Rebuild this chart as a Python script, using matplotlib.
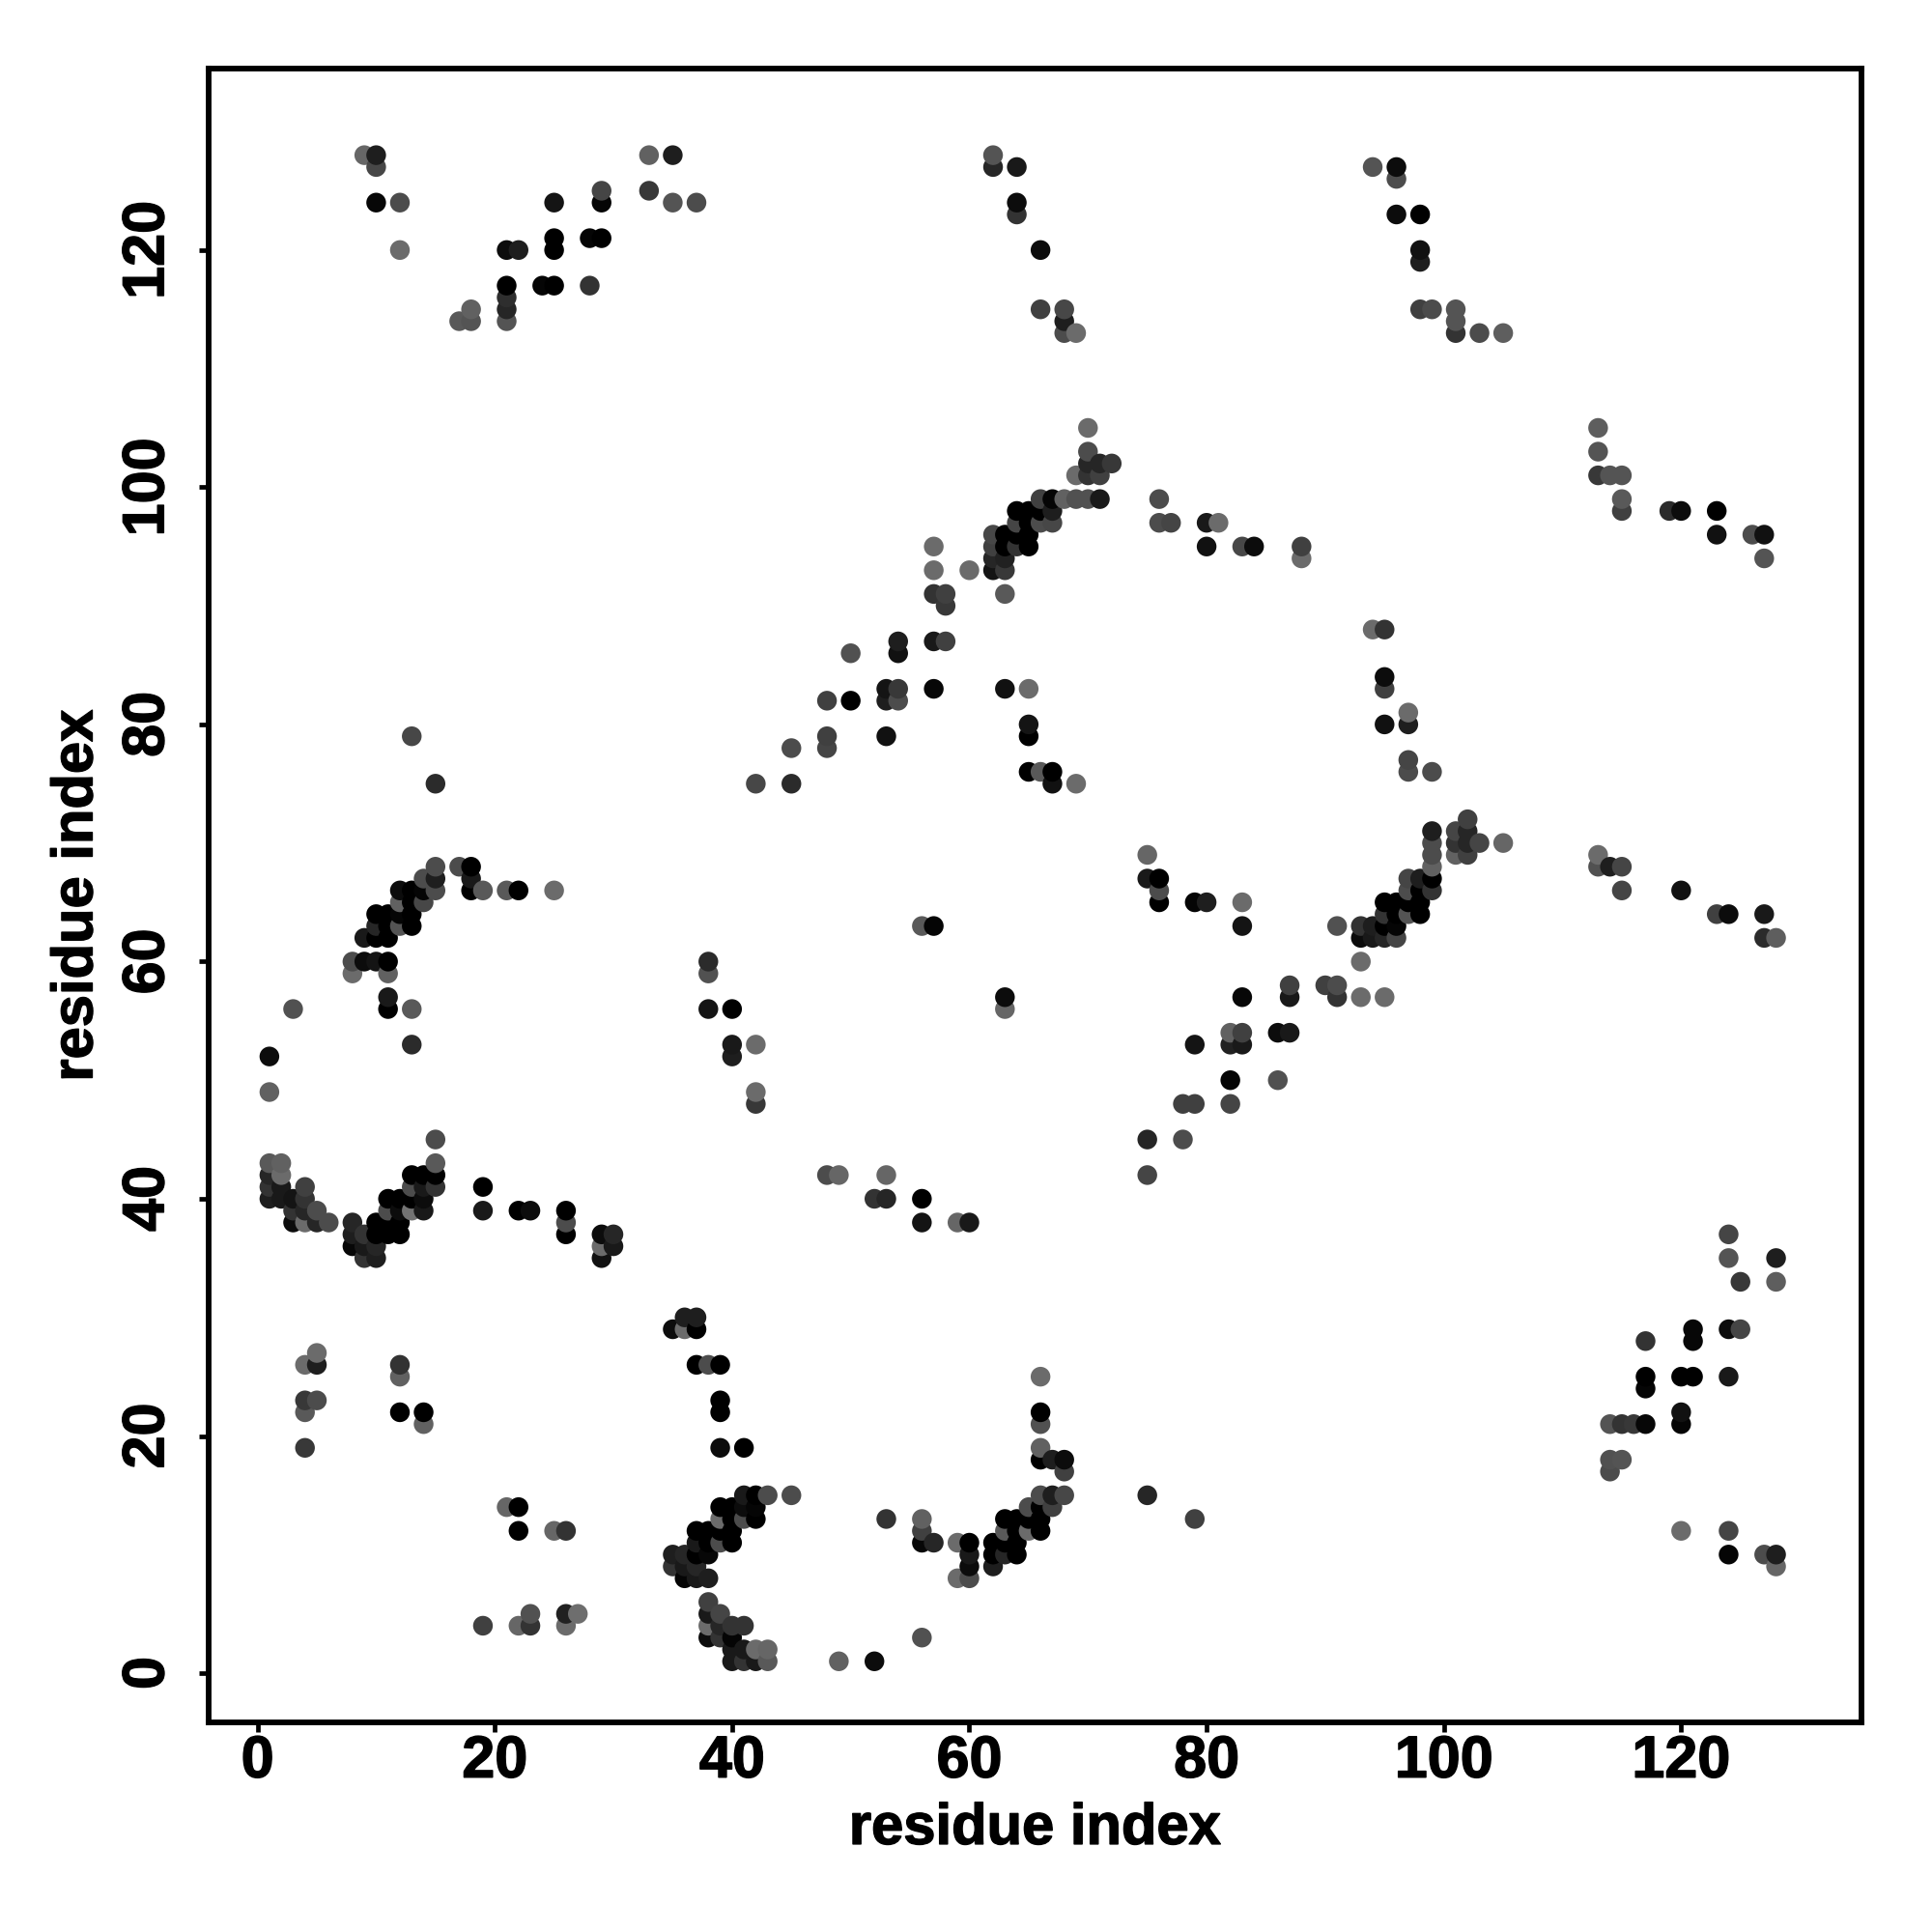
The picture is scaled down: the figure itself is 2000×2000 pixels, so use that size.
import matplotlib

matplotlib.use("Agg")
import matplotlib.patheffects as pe
import matplotlib.pyplot as plt
import numpy as np

plt.rcParams["font.family"] = ["Liberation Sans", "DejaVu Sans"]

# contacts, one row per y value: (y, [x...], [grey level...])
rows = [
    (128, [9, 10, 33, 35, 62], [.4, .12, .38, .12, .33]),
    (127, [10, 62, 64, 94, 96], [.28, .15, .1, .33, .05]),
    (126, [96], [.3]),
    (125, [29, 33], [.27, .22]),
    (124, [10, 12, 25, 29, 35, 37, 64], [.03, .3, .08, .02, .33, .3, .05]),
    (123, [64, 96, 98], [.2, .05, 0]),
    (121, [25, 28, 29], [0, .02, 0]),
    (120, [12, 21, 22, 25, 66, 98], [.42, .05, .12, 0, .05, .07]),
    (119, [98], [.12]),
    (117, [21, 24, 25, 28], [0, .02, 0, .2]),
    (116, [21], [.18]),
    (115, [18, 21, 66, 68, 98, 99, 101], [.38, .15, .25, .28, .25, .3, .33]),
    (114, [17, 18, 21, 68, 101], [.35, .33, .33, .12, .33]),
    (113, [68, 69, 101, 103, 105], [.3, .42, .2, .3, .37]),
    (105, [70, 113], [.42, .37]),
    (103, [70, 113], [.3, .33]),
    (102, [70, 71, 72], [.15, .15, .22]),
    (101, [69, 70, 71, 113, 114, 115], [.42, .2, .25, .22, .33, .33]),
    (99, [66, 67, 68, 69, 70, 71, 76, 115], [.25, .02, .38, .32, .32, .1, .3, .35]),
    (98, [64, 65, 66, 67, 115, 119, 120, 123], [0, 0, 0, .12, .25, .17, .05, 0]),
    (97, [64, 65, 66, 67, 76, 77, 80, 81], [.27, 0, .3, .28, .3, .27, .1, .42]),
    (96, [62, 63, 64, 65, 123, 126, 127], [.28, 0, 0, 0, .07, .3, .07]),
    (95, [57, 62, 63, 64, 65, 80, 83, 84, 88], [.42, .25, 0, .2, 0, .07, .28, .05, .25]),
    (94, [62, 63, 88, 127], [.15, .13, .42, .33]),
    (93, [57, 60, 62, 63], [.42, .42, .08, .22]),
    (91, [57, 58, 63], [.2, .25, .35]),
    (90, [58], [.22]),
    (88, [94, 95], [.42, .2]),
    (87, [54, 57, 58], [.12, .1, .25]),
    (86, [50, 54], [.32, .07]),
    (84, [95], [.05]),
    (83, [53, 54, 57, 63, 65, 95], [.08, .22, .03, .07, .42, .25]),
    (82, [48, 50, 53, 54], [.25, 0, .12, .3]),
    (81, [97], [.42]),
    (80, [65, 95, 97], [.08, .07, .12]),
    (79, [13, 48, 53, 65], [.28, .25, .07, 0]),
    (78, [45, 48], [.3, .27]),
    (77, [97], [.27]),
    (76, [65, 66, 67, 97, 99], [0, .35, 0, .3, .3]),
    (75, [15, 42, 45, 67, 69], [.17, .28, .17, .07, .42]),
    (72, [102], [.25]),
    (71, [99, 101, 102], [.12, .27, .15]),
    (70, [99, 101, 102, 103, 105], [.3, .2, .15, .27, .4]),
    (69, [75, 99, 101, 102, 113], [.4, .3, .38, .25, .42]),
    (68, [15, 17, 18, 99, 113, 114, 115], [.3, .3, 0, .38, .32, .12, .27]),
    (67, [14, 15, 18, 75, 76, 97, 98, 99], [.3, .12, .1, .1, 0, .27, .12, 0]),
    (66, [12, 13, 14, 15, 18, 19, 21, 22, 25, 76, 97, 98, 99, 115, 120],
     [.05, 0, .02, .3, 0, .35, .35, 0, .42, .3, .3, 0, .2, .27, .07]),
    (65, [12, 13, 14, 76, 79, 80, 83, 95, 96, 97, 98],
     [.38, 0, .28, 0, .02, .12, .42, 0, 0, 0, 0]),
    (64, [10, 11, 12, 13, 95, 96, 97, 98, 123, 124, 127],
     [0, 0, .02, 0, .2, 0, .33, 0, .25, .05, .1]),
    (63, [10, 11, 12, 13, 56, 57, 83, 91, 93, 94, 95, 96],
     [.15, 0, .33, 0, .35, .02, .08, .32, .2, .12, 0, .02]),
    (62, [9, 10, 11, 93, 94, 95, 96, 127, 128], [.1, 0, 0, .05, .1, .15, .27, .17, .37]),
    (60, [8, 9, 10, 11, 38, 93], [.3, .05, .08, 0, .17, .42]),
    (59, [8, 11, 38], [.42, .38, .32]),
    (58, [87, 90, 91], [.25, .25, .3]),
    (57, [11, 63, 83, 87, 91, 93, 95], [.1, .05, .03, .1, .2, .42, .42]),
    (56, [3, 11, 13, 38, 40, 63], [.32, 0, .35, .08, 0, .4]),
    (54, [82, 83, 86, 87], [.38, .25, .05, .1]),
    (53, [13, 40, 42, 79, 82, 83], [.17, .1, .42, .08, .13, .1]),
    (52, [1, 40], [.05, .12]),
    (50, [82, 86], [.02, .32]),
    (49, [1, 42], [.38, .42]),
    (48, [42, 78, 79, 82], [.22, .25, .25, .27]),
    (45, [15, 75, 78], [.3, .15, .3]),
    (43, [1, 2, 15], [.35, .38, .35]),
    (42, [1, 2, 13, 14, 15, 48, 49, 53, 75], [.15, .42, 0, 0, 0, .3, .4, .4, .27]),
    (41, [1, 2, 4, 13, 14, 15, 19], [.2, .1, .25, .3, .1, .2, 0]),
    (40, [1, 2, 3, 4, 11, 12, 13, 14, 52, 53, 56], [.12, .1, .08, .2, 0, 0, 0, .05, .2, .15, 0]),
    (39, [3, 4, 5, 11, 12, 13, 14, 19, 22, 23, 26],
     [.2, .15, .3, .3, .05, .45, .1, .1, 0, .05, 0]),
    (38, [3, 4, 5, 6, 8, 10, 11, 12, 26, 56, 59, 60],
     [.05, .42, .15, .3, .15, 0, 0, 0, .3, .08, .4, .1]),
    (37, [8, 9, 10, 11, 12, 26, 29, 30, 124], [.12, .2, 0, 0, 0, 0, .05, .15, .27]),
    (36, [8, 9, 10, 29, 30], [.03, .1, .15, .42, .1]),
    (35, [9, 10, 29, 124, 128], [.2, .12, .07, .33, .12]),
    (33, [125, 128], [.22, .37]),
    (30, [36, 37], [.12, .12]),
    (29, [35, 36, 37, 121, 124, 125], [.05, .42, 0, .03, .05, .27]),
    (28, [117, 121], [.2, .03]),
    (27, [5], [.42]),
    (26, [4, 5, 12, 37, 38, 39], [.42, .12, .2, 0, .3, 0]),
    (25, [12, 66, 117, 120, 121, 124], [.38, .42, 0, 0, 0, .1]),
    (24, [117], [.02]),
    (23, [4, 5, 39], [.22, .3, 0]),
    (22, [4, 12, 14, 39, 66, 120], [.35, 0, 0, 0, 0, .07]),
    (21, [14, 66, 114, 115, 116, 117, 120], [.38, .32, .33, .2, .22, .03, .02]),
    (19, [4, 39, 41, 66], [.22, .05, 0, .38]),
    (18, [66, 67, 68, 114, 115], [0, .12, .05, .32, .33]),
    (17, [68, 114], [.25, .3]),
    (15, [41, 42, 43, 45, 66, 67, 68, 75], [.1, 0, .3, .3, .3, .12, .28, .15]),
    (14, [21, 22, 39, 40, 41, 42, 65, 66, 67], [.4, 0, 0, 0, .05, .02, .3, 0, .25]),
    (13, [39, 40, 41, 42, 53, 56, 63, 64, 65, 66, 79],
     [.42, 0, .3, 0, .2, .38, 0, 0, 0, 0, .25]),
    (12, [22, 25, 26, 37, 38, 39, 40, 56, 63, 64, 65, 66, 120, 124],
     [0, .4, .2, 0, 0, 0, 0, .25, .35, 0, .42, 0, .42, .27]),
    (11, [37, 38, 39, 40, 56, 57, 59, 60, 62, 63, 64],
     [.1, 0, .3, 0, .03, .15, .42, 0, 0, 0, 0]),
    (10, [35, 36, 37, 38, 60, 62, 63, 64, 124, 127, 128],
     [.12, .15, 0, .03, .1, 0, .15, 0, .02, .3, .12]),
    (9, [35, 36, 37, 60, 62, 128], [.2, .1, .15, .05, .12, .4]),
    (8, [36, 37, 38, 59, 60], [.02, .1, .12, .42, .3]),
    (6, [38], [.25]),
    (5, [23, 26, 27, 38, 39], [.32, .13, .43, .1, .27]),
    (4, [19, 22, 23, 26, 38, 39, 40, 41], [.25, .4, .2, .42, .42, .15, .2, .2]),
    (3, [38, 39, 40, 56], [.05, .2, .02, .32]),
    (2, [40, 41, 42, 43], [.1, .1, .42, .4]),
    (1, [40, 41, 42, 43, 49, 52], [.1, .2, .1, .35, .38, .05]),
]

tick_vals = [0, 20, 40, 60, 80, 100, 120]

res_x = np.concatenate([r[1] for r in rows])
res_y = np.concatenate([[r[0]] * len(r[1]) for r in rows])
shade = np.concatenate([r[2] for r in rows])

# reference draws by x then y, so later points sit on top
order = np.lexsort((res_y, res_x))

fig = plt.figure(figsize=(10, 10), dpi=200)
ax = fig.add_axes([216 / 2000, 1 - 1783 / 2000, 1711 / 2000, 1712 / 2000])

ax.scatter(res_x[order], res_y[order], s=54, c=shade[order], cmap="gray", vmin=0, vmax=1, linewidths=0)

ax.set_xlim(-4.12, 135.2)
ax.set_ylim(-4.15, 135.3)
ax.set_xticks(tick_vals)
ax.set_yticks(tick_vals)
ax.tick_params(length=3.6, width=1.7, labelsize=22)
ax.tick_params(axis="x", pad=1)
ax.tick_params(axis="y", pad=8.5)
for side in ax.spines.values():
    side.set_linewidth(2.1)

ax.set_xlabel("residue index", fontsize=21.5, fontweight="bold", va="center")
ax.set_ylabel("residue index", fontsize=21.5, fontweight="bold", va="center")
ax.xaxis.set_label_coords(0.5, -0.0645)
ax.yaxis.set_label_coords(-0.0795, 0.5)

# Helvetica bold in the reference is a bit heavier than Liberation
heavier = [pe.withStroke(linewidth=0.5, foreground="black")]
for label in ax.get_xticklabels() + ax.get_yticklabels():
    label.set_fontweight("bold")
    label.set_path_effects(heavier)
for label in ax.get_yticklabels():
    label.set_rotation(90)
    label.set_va("center")
ax.xaxis.label.set_path_effects(heavier)
ax.yaxis.label.set_path_effects(heavier)

fig.savefig("out.png", dpi=200)
